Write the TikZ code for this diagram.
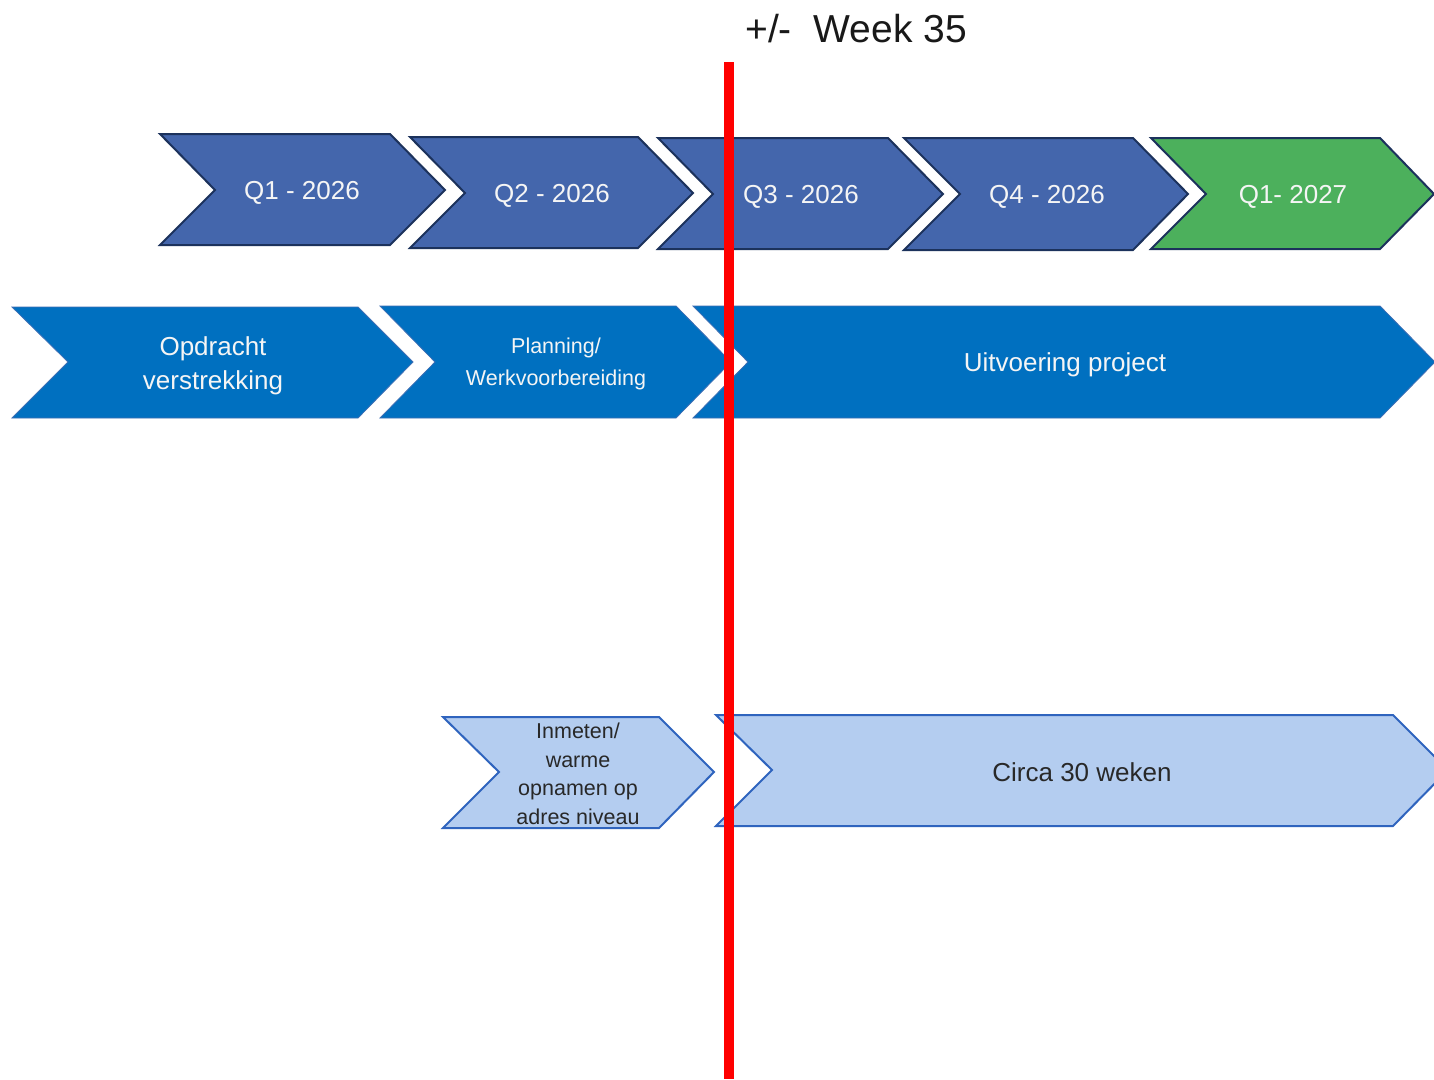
\documentclass[tikz,border=0pt]{standalone}
\usepackage{fontspec}
\setmainfont{Liberation Sans}
\definecolor{qblue}{RGB}{68,102,172}
\definecolor{qline}{RGB}{28,50,92}
\definecolor{qgreen}{RGB}{76,176,92}
\definecolor{pblue}{RGB}{0,112,192}
\definecolor{pline}{RGB}{60,110,180}
\definecolor{lblue}{RGB}{180,205,240}
\definecolor{lline}{RGB}{47,100,190}
\definecolor{dtext}{RGB}{40,40,40}
\definecolor{wtext}{RGB}{245,245,245}
\begin{document}
\begin{tikzpicture}[x=1pt,y=-1pt,
  qchev/.style={fill=qblue,draw=qline,line width=2pt,line join=miter},
  gchev/.style={fill=qgreen,draw=qline,line width=2pt,line join=miter},
  pchev/.style={fill=pblue,draw=pline,line width=0.8pt,line join=miter},
  lchev/.style={fill=lblue,draw=lline,line width=2pt,line join=miter},
  wlabel/.style={text=wtext,font=\fontsize{26}{34}\selectfont,align=center,inner sep=0pt,yshift=-3pt},
  wsmall/.style={text=wtext,font=\fontsize{21.5}{32}\selectfont,align=center,inner sep=0pt,yshift=-2pt},
  dlabel/.style={text=dtext,font=\fontsize{26}{34}\selectfont,align=center,inner sep=0pt,yshift=-1pt},
  dsmall/.style={text=dtext,font=\fontsize{21.5}{28.5}\selectfont,align=center,inner sep=0pt,yshift=-1pt},
  redline/.style={draw=red,line width=10pt}]
\clip (0,0) rectangle (1434,1079);
\fill[white] (0,0) rectangle (1434,1079);
% Row 1: quarters
\path[qchev] (160,134) -- (390,134) -- (445,190) -- (390,245) -- (160,245) -- (215,190) -- cycle;
\path[qchev] (410,137) -- (638,137) -- (693,193) -- (638,248) -- (410,248) -- (465,193) -- cycle;
\path[qchev] (658,138) -- (888,138) -- (943,194) -- (888,249) -- (658,249) -- (713,194) -- cycle;
\path[qchev] (904,138) -- (1133,138) -- (1188,194) -- (1133,250) -- (904,250) -- (960,194) -- cycle;
\path[gchev] (1151,138) -- (1380,138) -- (1434,194) -- (1380,249) -- (1151,249) -- (1206,194) -- cycle;
\node[wlabel] (q1) at (302,190) {Q1 - 2026};
\node[wlabel] (q2) at (552,193) {Q2 - 2026};
\node[wlabel] (q3) at (801,194) {Q3 - 2026};
\node[wlabel] (q4) at (1047,194) {Q4 - 2026};
\node[wlabel] (q5) at (1293,194) {Q1- 2027};
% Row 2: phases
\path[pchev] (12,307) -- (358,307) -- (413,362) -- (358,418) -- (12,418) -- (68,362) -- cycle;
\path[pchev] (380,306) -- (676,306) -- (731,362) -- (676,418) -- (380,418) -- (435,362) -- cycle;
\path[pchev] (693,306) -- (1380,306) -- (1435,362) -- (1380,418) -- (693,418) -- (748,362) -- cycle;
\node[wlabel] (opd) at (213,363) {Opdracht\\verstrekking};
\node[wsmall] (plan) at (556,362) {Planning/\\Werkvoorbereiding};
\node[wlabel] (uitv) at (1065,362) {Uitvoering project};
% Row 3
\path[lchev] (443,717) -- (659,717) -- (714,772) -- (659,828) -- (443,828) -- (499,772) -- cycle;
\path[lchev] (716,715) -- (1393,715) -- (1448,770) -- (1393,826) -- (716,826) -- (772,770) -- cycle;
\node[dsmall] (inm) at (578,773) {Inmeten/\\warme\\opnamen op\\adres niveau};
\node[dlabel] (circa) at (1082,771) {Circa 30 weken};
% Marker
\coordinate (rtop) at (729,62);
\coordinate (rbot) at (729,1079);
\draw[redline] (rtop) -- (rbot);
\node[text=black!90,font=\fontsize{39}{45}\selectfont,inner sep=0pt] (title) at (856,29) {+/-\ \ Week 35};
\end{tikzpicture}
\end{document}
